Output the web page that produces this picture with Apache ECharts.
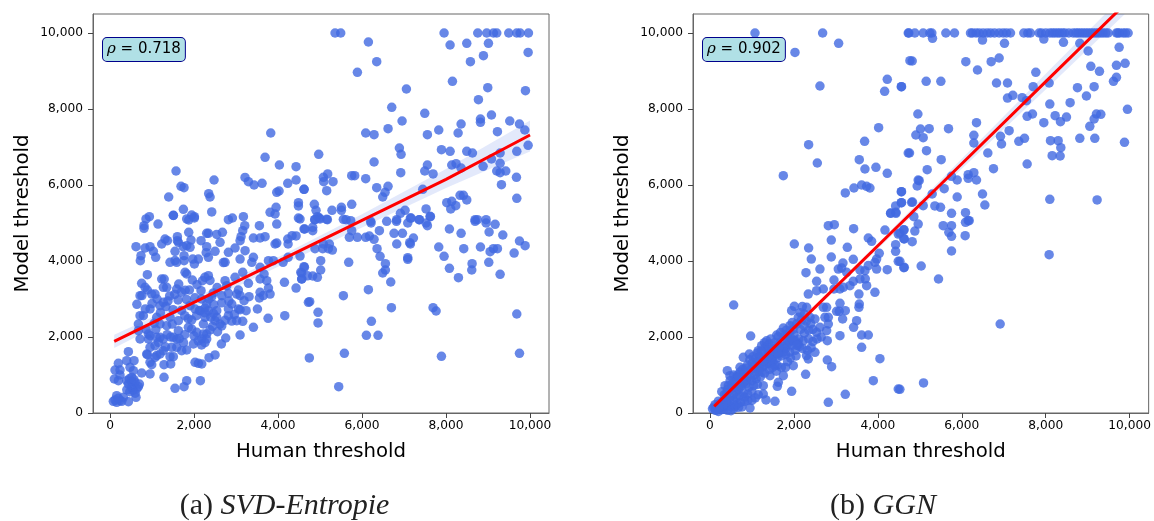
<!DOCTYPE html>
<html><head><meta charset="utf-8">
<style>html,body{margin:0;padding:0;background:#fff}#c{width:1154px;height:521px}</style>
<script src="https://cdn.jsdelivr.net/npm/echarts@6/dist/echarts.min.js"></script>
</head><body><div id="c"></div>
<script>
const tickValues=[0,2000,4000,6000,8000,10000];
const svdPoints=[
[3827,7368],[3692,6728],[4033,6526],[4430,6483],[1572,6368],[2477,6132],[3215,6200],[3295,6088],[3430,6000],[3620,6044],[4232,6044],[4430,6132],[4621,5886],[1691,5965],[1762,5930],[1397,5684],[2350,5772],[2382,5684],[3970,5807],[4025,5842],[4486,5535],[4486,5448],[1747,5360],[3954,5412],[3811,5281],[3930,5237],[1508,5202],[2422,5290],[1945,5210],[1826,5106],[2009,5132],[937,5167],[857,5106],[2819,5088],[2914,5132],[3176,5167],[4486,5132],
[5358,10000],[5493,10000],[6152,9763],[6350,9245],[5890,8964],[7954,10000],[8097,9684],[8494,9727],[8756,10000],[8970,10000],[9129,10000],[9208,10000],[9494,10000],[9685,10000],[9764,10000],[9963,10000],[9010,9727],[8891,9403],[8581,9245],[9955,9490],[8153,8728],[7057,8526],[8994,8561],[9891,8482],[8772,8245],[6708,8044],[7494,7886],[6954,7684],[9082,7842],[8820,7737],[8820,7649],[8359,7605],[9518,7684],[9749,7605],[6620,7482],[7827,7447],[6088,7368],[6287,7324],[7557,7324],[8288,7368],[9224,7403],[9876,7447],[9955,7044],[6890,6974],[6930,6807],[7891,6930],[8097,6886],[8494,6886],[8629,6842],[9288,6842],[9685,6886],[4969,6807],[9082,6684],[6287,6605],[7557,6526],[9288,6570],[8137,6526],[8240,6560],[8359,6447],[8883,6491],[7494,6368],[7692,6290],[6922,6325],[9208,6368],[9288,6325],[9423,6368],[5183,6290],[5080,6202],[5088,6088],[5310,6088],[5755,6246],[5826,6246],[6088,6167],[9677,6202],[9320,6009],[4619,5886],[5159,5851],[6350,5930],[6620,5965],[6549,5807],[6493,5684],[7446,5886],[8335,5728],[8414,5728],[8494,5606],[9685,5649],[8018,5535],[8137,5570],[8232,5457],[8113,5369],[4865,5492],[4905,5334],[5509,5412],[5509,5334],[5286,5334],[5755,5492],[7525,5369],[7025,5334],[6914,5255],[7621,5176],[7152,5132],[7359,5088],[8692,5088],[8954,5088],[6826,5088],[6207,5044],[4937,5167],[5159,5097],[5000,5106],[4873,5088],[5556,5097],[5731,5062],
[4984,5131],[4881,5087],[5175,5087],[5620,5087],[4524,5105],[4619,4842],[4826,4885],[4826,4798],[5755,4798],[5699,4622],[5890,4622],[6088,4622],[6176,4657],[6287,4570],[6215,5000],[6414,4798],[6588,5043],[6819,5043],[6763,4728],[6962,4728],[6827,4447],[7089,5000],[7168,5131],[7367,5087],[7525,5000],[7557,4929],[7629,5166],[7224,4605],[7136,4482],[7152,4447],[8081,4842],[8359,4728],[8692,5043],[8748,5087],[8954,5000],[9169,4964],[9026,4763],[9352,4684],[9749,4526],[9883,4403],[7827,4368],[8422,4324],[8820,4368],[9129,4324],[9224,4324],[9050,4245],[9622,4210],[7954,4122],[7089,4087],[7089,4043],[9018,3965],[8621,3930],[8613,3763],[8081,3807],[9288,3649],[8296,3561],[5080,4447],[5223,4447],[5064,4324],[4881,4324],[5199,4324],[5294,4289],[4524,4131],[5016,4008],[5683,3965],[6557,3930],[6430,4122],[6358,4324],[4619,3851],[5016,3763],[6557,3763],[6493,3684],[4564,3684],[4826,3605],[4937,3570],[4564,3526],[6684,3447],[6152,3245],[5556,3088],[4754,2930],[6700,2772],[7692,2772],[7764,2684],[4953,2649],[9685,2605],[4953,2369],[6223,2412],[6104,2044],[6382,2044],[5580,1570],[4746,1448],[7891,1492],[9749,1570],[5445,693],
[810,4929],[810,4859],[1143,4973],[1508,5200],[1874,5079],[2009,5166],[3208,4929],[3160,4798],[3120,4640],[3097,4535],[3557,4929],[3970,4973],[4637,4842],[3414,4605],[3573,4605],[3692,4640],[3970,4473],[3930,4447],[4240,4447],[4232,4579],[4335,4666],[4430,4660],[619,4377],[738,4140],[722,4008],[834,4342],[953,4377],[1032,4254],[1088,4096],[1231,4447],[1310,4579],[1366,4535],[1604,4640],[1604,4535],[1628,4491],[1874,4754],[1929,4552],[1826,4403],[1906,4359],[1740,4380],[1548,4254],[1763,4140],[1763,4008],[1548,4010],[1429,3965],[1588,3965],[2009,3921],[2104,4052],[1970,4050],[2167,4535],[2302,4727],[2342,4727],[2540,4700],[2676,4754],[2620,4491],[2302,4377],[2501,4254],[2342,4096],[2290,4220],[2819,4228],[2739,3965],[2700,3960],[2977,4342],[3097,4052],[3216,4272],[3414,4096],[3375,3965],[3573,3833],[3772,4008],[3890,4008],[4120,3965],[4240,4096],
[1787,3702],[1826,3658],[889,3640],[1231,3526],[1290,3526],[754,3412],[834,3307],[889,3237],[715,3088],[760,3090],[993,3131],[1072,3131],[1270,3307],[1350,3307],[1636,3394],[1588,3263],[1790,3230],[1890,3237],[2072,3377],[2167,3220],[2342,3614],[2380,3490],[2260,3570],[2739,3482],[2780,3350],[2977,3570],[3160,3702],[3295,3412],[3573,3526],[3668,3658],[3732,3482],[3772,3289],[3573,3175],[3557,3026],[3650,3090],[3811,3131],[3057,3237],[3017,3130],[3097,3090],[2819,3150],[2660,3088],[2422,3061],[3311,3061],[3192,2956],[2898,2868],[3057,2740],[3097,2719],[3240,2693],[3510,2737],[3764,2491],[4161,2561],[4153,3438],[4430,3289],[4565,3526],[4542,3702],[4629,3833],[4724,2912],[4700,3610],
[1191,2824],[1270,2912],[1620,2974],[1906,2824],[2025,2737],[2145,2693],[2302,2868],[2342,2693],[2541,2693],[2819,2737],[2819,2561],[3017,2430],[3160,2412],[3414,2254],[3097,2053],[2755,1974],[2652,1816],[2501,1527],[2358,1457],[2184,1290],[2025,1333],[2104,1307],[2152,851],[1826,851],[1763,693],[1548,650],[1286,939],[1286,1272],[1445,1290],[953,1027],[754,1053],[993,1272],[953,1333],[889,1535],[1112,1510],[437,1614],[572,1377],[397,1377],[199,1307],[119,1132],[238,1132],[103,895],[199,851],[238,1000],[476,1202],[556,1114],[516,939],[397,851],[675,693],[596,807],[516,675],[437,763],[619,413],[437,298],[318,413],[238,325],[159,456],[79,307],[159,281],[278,307],[120,340],[200,390],[520,820],[460,900],[570,880],[640,640],[550,600],[470,560],[400,610],[600,520],[700,760],
[675,2342],[675,2167],[715,1947],[913,2079],[953,2035],[913,1947],[1112,1991],[1191,1991],[1270,1947],[953,1728],[1072,1772],[1151,1860],[1508,1991],[1588,1947],[1628,2167],[1866,2254],[1945,2210],[2065,2123],[2223,2079],[2302,2079],[2184,1947],[2302,1947],[1985,1816],[1826,1658],[1707,1640],[1588,1728],[1469,1728],[1429,1483],[1508,1483],[1270,1640],[1191,1553],[1072,1465],[874,1553],[794,2561],[715,2561],[953,2737],[1112,2518],[1191,2342],[1350,2298],[1628,2430],[1945,2447],[2501,2430],[2541,2518],[2263,2518],[2223,2342],[2620,2342],[1050,2360],[1330,2800],[1430,2520],[1480,2340],[1700,2700],[1780,2560],[1860,2480],[2060,2560],[2130,2700],[2260,2760],[2400,2520],[2460,2620],[2000,2030],[2100,1900],[2180,1790],[2260,1850],[1750,1850],[1650,1960],[1780,2060],[1440,2000],[1320,1740],[1360,2060],[1090,2200],[860,2200],[2380,2190],[2440,2280],[2560,2140],[2660,2290],[2740,2440],[2900,2420],[2960,2590],[2830,2950],[2660,2900],[2470,2850],[2350,3000],[2180,3000],[2020,3030],[1820,2990],[1540,3120],[1420,3080],[1380,2950],[1120,3000],[1000,2880],[840,2740],[640,2860],[1200,2640],[1500,2720],[2250,2640],[2550,3300],[2460,3160],[2200,3480],[1960,3500],[1700,3180]
];
const ggnPoints=[
[1072,10000],[2684,10000],[3065,9727],[2025,9490],[4724,10000],[4764,9271],[2620,8605],[4224,8780],[4161,8465],[4558,8587],[4018,7509],[2350,7061],[3684,7149],[2557,6579],[3557,6667],[3692,6421],[3954,6465],[4224,6307],[1747,6246],[4724,6842],[3613,6000],[3430,5921],[3224,5790],[3732,5965],[3811,5921],[4558,5825],[4558,5535],[4423,5448],[4304,5263],[4430,5281],[4804,5544],
[4738,10000],[4881,10000],[5080,10000],[5239,10000],[5286,10000],[5620,10000],[5826,10000],[6207,10000],[6255,10000],[6340,10000],[6414,10000],[6509,10000],[6604,10000],[6684,10000],[6780,10000],[6890,10000],[6985,10000],[7065,10000],[7160,10000],[7478,10000],[7573,10000],[7636,10000],[7843,10000],[7899,10000],[8000,10000],[8097,10000],[8160,10000],[8216,10000],[8280,10000],[8335,10000],[8400,10000],[8454,10000],[8550,10000],[8653,10000],[8720,10000],[8772,10000],[8830,10000],[8891,10000],[8950,10000],[9010,10000],[9070,10000],[9129,10000],[9190,10000],[9248,10000],[9310,10000],[9367,10000],[9430,10000],[9487,10000],[9685,10000],[9720,10000],[9764,10000],[9844,10000],[9900,10000],[9963,10000],
[5302,9859],[6493,9815],[7017,9727],[7954,9841],[8422,9754],[8812,9727],[9749,9622],[9010,9526],[4818,9263],[6096,9245],[6700,9245],[6890,9342],[6374,9026],[9074,9122],[9685,9149],[9891,9201],[9280,8991],[7764,8964],[5151,8728],[5501,8728],[6827,8684],[7089,8684],[8081,8684],[4564,8587],[7700,8587],[8756,8561],[9153,8587],[9685,8833],[9614,8728],[8970,8342],[7216,8359],[7089,8289],[7438,8298],[7541,8219],[8097,8131],[8581,8166],[9947,7991],[4953,7868],[7557,7807],[7684,7868],[8224,7824],[8494,7789],[8351,7666],[7954,7640],[9208,7868],[9312,7860],[9153,7737],[9050,7544],[6350,7640],[5016,7474],[5223,7482],[5683,7482],[4905,7316],[5080,7246],[6287,7307],[7128,7430],[6922,7281],[6946,7079],[6287,7105],[7359,7149],[7494,7228],[8113,7167],[8296,7167],[8359,6982],[8812,7228],[9169,7228],[9876,7123],[5159,6903],[4754,6842],[6620,6842],[8153,6772],[8343,6763],[5509,6667],[7557,6553],[5175,6404],[6755,6430],[6287,6325],[6152,6272],[6152,6175],[5755,6228],[5890,6132],[6350,6132],[4984,6114],[4961,6130],[4937,5974],[5580,5904],[4564,5825],[5294,5763],[6493,5763],[5890,5684],[4564,5535],[4826,5553],[5080,5457],[5358,5448],[5493,5412],[6549,5474],[8097,5623],[9224,5606],[4857,5167],[5755,5255],[6088,5272],[6152,5062],
[6088,5017],[6176,5061],[5755,4929],[5556,4929],[5691,4754],[5755,4649],[6080,4666],[5755,4263],[4961,4973],[4881,4789],[4619,4824],[4524,4736],[4619,4587],[4818,4508],[8081,4166],[4524,3991],[4619,3824],[5032,3868],[5445,3526],[6914,2342],[5088,790],[4524,623],
[2819,4929],[2962,4956],[3422,4850],[4304,5254],[4430,5254],[4169,4815],[4621,4815],[4486,4710],[3772,4605],[3851,4517],[4629,4579],[2890,4552],[2009,4447],[2350,4342],[3272,4359],[4423,4429],[4423,4254],[4033,4201],[2414,4052],[2890,4105],[3168,3947],[3414,4043],[3970,4052],[3930,3965],[4486,3991],[4629,3833],[4224,3772],[2620,3789],[2287,3693],[3057,3789],[3137,3816],[3256,3702],[3573,3763],[3692,3745],[3772,3880],[3970,3789],[2541,3465],[2954,3500],[3414,3465],[3573,3526],[3700,3530],[3732,3351],[3930,3175],[3549,3131],[3557,2868],[3549,2781],[3097,2886],[3017,2675],[3080,2675],[3224,2693],[3160,2474],[3494,2430],[3422,2254],[3613,2053],[3772,2053],[3613,1728],[4049,1430],[3097,2035],[2795,1904],[2795,1395],[2898,1220],[2279,1018],[3891,851],[4486,632],[3224,492],[2819,281],[1945,571],[564,2842],[969,2026],
[2342,3131],[2541,3220],[2700,3263],[2954,3263],[3097,3263],[3176,3307],[3335,3351],[2700,2781],[2779,2781],[2819,2518],[2739,2518],[2303,2781],[2009,2807],[1945,2693],[2104,2518],[2382,2518],[2501,2474],[2819,2342],[2620,2254],[2779,2167],[2541,2123],[1747,2237],[1906,2298],[1628,2009],[1231,1772],[1310,1728],[1151,1640],[794,1465],[937,1553],[715,1202],[413,1114],[476,983],[357,720],[437,720],[1429,983],[1270,720],[1270,500],[1334,343],[1548,308],[953,132],[1628,807],[1604,702],[1747,983],[1985,1246],[2342,1421],[2501,1596],[2300,1510],
[2200,2800],[2150,2640],[2250,2600],[2300,2420],[2400,2350],[2450,2200],[2350,2180],[2250,2100],[2150,2200],[2060,2340],[1980,2200],[1900,2150],[2000,2060],[2120,1950],[2220,1900],[2350,1950],[2450,1880],[2550,1950],[2650,2000],[2130,1750],[2200,1700],[2320,1650],[2410,1720],[2030,1650],[1950,1780],[1850,1900],[1780,2050],[1700,1880],[1620,1800],[1560,1700],[1680,1650],[1800,1700],[1900,1600],[1800,1540],[1700,1500],[1600,1450],[1500,1560],[1460,1680],[1400,1820],[1420,1520],[1380,1620],[1310,1500],[1250,1400],[1180,1480],[1120,1350],[1050,1250],[980,1150],[1080,1100],[1180,1200],[1290,1250],[1400,1300],[1500,1350],[1600,1250],[1700,1200],[1850,1350],[1920,1450],[2050,1500],[1800,1200],[1580,1100],[1420,1150],[1300,1050],[1200,950],[1100,900],[1000,850],[900,950],[820,1050],[760,950],[700,850],[640,950],[560,1000],[480,850],[420,620],[520,640],[600,680],[680,620],[760,720],[850,760],[930,680],[1040,720],[1130,750],[1000,560],[900,500],[800,520],[700,460],[620,400],[560,330],[480,420],[380,420],[310,300],[230,250],[170,130],[90,150],[60,110],[130,70],[200,40],[280,90],[360,180],[430,240],[500,170],[570,120],[650,230],[730,280],[820,300],[900,330],[1000,330],[1080,400],[1150,480],[280,560],[340,480],[200,310],[120,220],[250,150],[330,100],[420,70],[500,60],[600,180],[680,150],[760,160],[820,420],[1230,1080],[1360,1400],[1470,1450],[1640,1590],[1750,1750],[1840,1790],[1900,1880],[2030,1900],[2100,1820],[1540,1260],[1490,1200],[660,1000],[720,1080],[890,1260],[1010,1320],[1090,1440],[1150,1180],[1300,1850],[1380,1720],[1540,1850],[1680,2120],[1820,2180],[1960,2380],[2180,2450],[2240,2300],
[1850,2040],[1920,1990],[1990,1910],[2070,1780],[1750,1610],[1640,1720],[1530,1520],[1450,1400],[1340,1320],[1260,1220],[1160,1100],[1060,1000],[960,920],[860,850],[780,800],[700,700],[620,560],[540,470],[460,330],[380,280],[300,200],[220,160],[150,80],[400,520],[520,760],[600,800],[690,940],[780,1150],[860,1180],[950,1400],[1020,1480],[1130,1580],[1220,1620],[1350,1900],[1450,1950],[1590,2050],[1280,1380],[1390,1500],[1500,1640],[1620,1560]
];
const regX=[100,2000,4000,6000,8000,10000];
const svdLine=[1886,2910,3990,5070,6150,7316];
const svdUpper=[2060,3020,4100,5230,6420,7700];
const svdLower=[1710,2780,3850,4880,5920,6880];
const ggnLine=[176,2240,4400,6560,8720,10880];
const ggnUpper=[270,2290,4470,6690,8930,11150];
const ggnLower=[90,2180,4320,6430,8510,10620];
const panels=[
 {points:svdPoints,line:svdLine,upper:svdUpper,lower:svdLower,left:93,rho:'0.718',cap:'(a) ',capIt:'SVD-Entropie',capX:284.5},
 {points:ggnPoints,line:ggnLine,upper:ggnUpper,lower:ggnLower,left:693,rho:'0.902',cap:'(b) ',capIt:'GGN',capX:883}
];
const XMIN=-405,XMAX=10452,YMIN=0,YMAX=10500;
const W=456,H=399,TOP=14;
const font='"DejaVu Sans"';
const fmt=v=>v.toLocaleString('en-US');
const chart=echarts.init(document.getElementById('c'),null,{renderer:'canvas'});
const axisBase=(name,gap,rot,margin)=>({
 type:'value',name:name,nameLocation:'middle',nameGap:gap,nameRotate:rot,
 nameTextStyle:{fontFamily:font,fontSize:19.7,color:'#000'},
 splitLine:{show:false},
 axisLine:{show:true,onZero:false,lineStyle:{color:'#666',width:1}},
 axisTick:{show:true,length:5,lineStyle:{color:'#444',width:1},customValues:tickValues},
 axisLabel:{fontFamily:font,fontSize:12.2,color:'#000',margin:margin,formatter:fmt,customValues:tickValues,hideOverlap:false,showMinLabel:true,showMaxLabel:true}
});
const option={animation:false,backgroundColor:'#fff',
 grid:panels.map(p=>({left:p.left,top:TOP,width:W,height:H,show:true,borderColor:'#666',borderWidth:1,backgroundColor:'transparent'})),
 xAxis:panels.map((p,i)=>Object.assign(axisBase('Human threshold',29,0,7),{gridIndex:i,min:XMIN,max:XMAX})),
 yAxis:panels.map((p,i)=>Object.assign(axisBase('Model threshold',60,90,10),{gridIndex:i,min:YMIN,max:YMAX})),
 series:[],
 graphic:[]
};
panels.forEach((p,i)=>{
 option.series.push({type:'scatter',xAxisIndex:i,yAxisIndex:i,data:p.points,symbolSize:9.5,silent:true,
  itemStyle:{color:'#4169E1',opacity:0.8},z:2});
 option.series.push({type:'custom',xAxisIndex:i,yAxisIndex:i,data:[0],clip:true,silent:true,z:3,
  renderItem:(params,api)=>{
   const pts=regX.map((x,k)=>api.coord([x,p.upper[k]])).concat(regX.map((x,k)=>api.coord([x,p.lower[k]])).reverse());
   return {type:'polygon',shape:{points:pts},style:{fill:'rgba(65,105,225,0.15)'}};
  }});
 option.series.push({type:'line',xAxisIndex:i,yAxisIndex:i,data:regX.map((x,k)=>[x,p.line[k]]),showSymbol:false,symbol:'none',clip:true,silent:true,
  lineStyle:{color:'#ff0000',width:3},z:4});
 option.graphic.push({type:'text',left:p.left+9,top:37,z:10,
  style:{rich:{r:{fontFamily:'"DejaVu Serif"',fontStyle:'italic',fontSize:15,fill:'#000'},t:{fontFamily:font,fontSize:15,fill:'#000'}},
   text:'{r|ρ}{t| = '+p.rho+'}',fill:'#000',backgroundColor:'#b0e0e6',borderColor:'#00008b',borderWidth:1,borderRadius:4,padding:[4,4,4,4]}});
 option.graphic.push({type:'text',x:p.capX,y:506,z:10,
  style:{text:'{a|'+p.cap+'}{b|'+p.capIt+'}',align:'center',verticalAlign:'middle',rich:{a:{fontFamily:'"Liberation Serif"',fontSize:30,fill:'#222'},b:{fontFamily:'"Liberation Serif"',fontStyle:'italic',fontSize:30,fill:'#222'}}}});
});
chart.setOption(option);
</script></body></html>
